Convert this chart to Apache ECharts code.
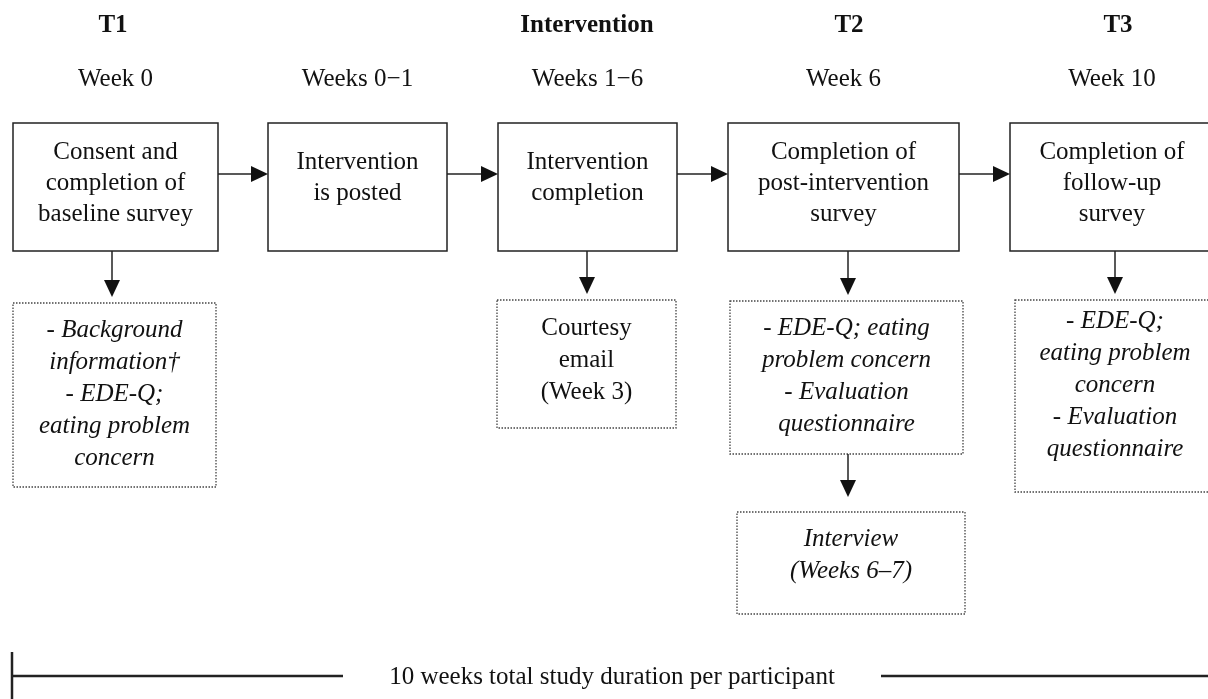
<!DOCTYPE html>
<html>
<head>
<meta charset="utf-8">
<style>
  html, body { margin: 0; padding: 0; background: #fff; }
  #chart { width: 1208px; height: 699px; }
</style>
<script src="https://cdn.jsdelivr.net/npm/echarts@6/dist/echarts.min.js"></script>
</head>
<body>
<div id="chart"></div>
<script>
// ---- content ----
const phases = ['T1', '', 'Intervention', 'T2', 'T3'];
const timepoints = ['Week 0', 'Weeks 0\u22121', 'Weeks 1\u22126', 'Week 6', 'Week 10'];
const steps = [
  'Consent and\ncompletion of\nbaseline survey',
  'Intervention\nis posted',
  'Intervention\ncompletion',
  'Completion of\npost-intervention\nsurvey',
  'Completion of\nfollow-up\nsurvey'
];
const measures = [
  '- Background\ninformation\u2020\n- EDE-Q;\neating problem\nconcern',
  'Courtesy\nemail\n(Week 3)',
  '- EDE-Q; eating\nproblem concern\n- Evaluation\nquestionnaire',
  'Interview\n(Weeks 6\u20137)',
  '- EDE-Q;\neating problem\nconcern\n- Evaluation\nquestionnaire'
];
const measureItalic = [true, false, true, true, true];
const durationLabel = '10 weeks total study duration per participant';

// ---- layout, in axis units (1 unit = 1px of the 1208x699 page) ----
const stepLeft = [13, 268, 498, 728, 1010];
const stepRight = [218, 447, 677, 959, 1214];
const stepTop = 123;
const stepBottom = 251;
const stepTextY = [183, 178, 178, 183, 183];
const phaseX = [113, 357, 587, 849, 1118];
const phaseY = 26;
const weekY = 79;

const measureLeft = [13, 497, 730, 737, 1015];
const measureRight = [216, 676, 963, 965, 1215];
const measureTop = [303, 300, 301, 512, 300];
const measureBottom = [487, 428, 454, 614, 492];
const measureTextY = [394, 360, 376, 555, 385];

const arrowY = 174;
const downX = [112, 587, 848, 1115];
const timelineY = 676;

const FONT = '"Liberation Serif", "Times New Roman", serif';
const INK = '#111';

// boxes: [left, top, right, bottom, textY]
const stepData = steps.map((s, i) => [stepLeft[i], stepTop, stepRight[i], stepBottom, stepTextY[i]]);
const measureData = measures.map((s, i) => [measureLeft[i], measureTop[i], measureRight[i], measureBottom[i], measureTextY[i]]);

// arrows: [x1, y1, x2, y2]
const arrowData = [];
for (let i = 0; i < 4; i++) arrowData.push([stepRight[i], arrowY, stepLeft[i + 1], arrowY]);
downX.forEach((x, i) => {
  const target = [0, 1, 2, 4][i];
  arrowData.push([x, stepBottom, x, measureTop[target] - 6]);
});
arrowData.push([downX[2], measureBottom[2], downX[2], measureTop[3] - 15]);

// header texts: [x, y]
const headerData = [];
phases.forEach((p, i) => headerData.push([phaseX[i], phaseY]));
timepoints.forEach((t, i) => headerData.push([(stepLeft[i] + stepRight[i]) / 2, weekY]));
const headerText = phases.concat(timepoints);

const renderBox = (labels, dashed, italicFlags) => (params, api) => {
  const p0 = api.coord([api.value(0), api.value(1)]);
  const p1 = api.coord([api.value(2), api.value(3)]);
  const cx = (p0[0] + p1[0]) / 2;
  const ty = api.coord([0, api.value(4)])[1];
  const italic = italicFlags ? italicFlags[params.dataIndex] : false;
  return {
    type: 'group',
    children: [
      {
        type: 'rect',
        shape: { x: p0[0], y: p0[1], width: p1[0] - p0[0], height: p1[1] - p0[1] },
        style: dashed
          ? { fill: null, stroke: '#444', lineWidth: 1.3, lineDash: [1.5, 1.5] }
          : { fill: null, stroke: '#222', lineWidth: 1.5 }
      },
      {
        type: 'text',
        style: {
          text: labels[params.dataIndex],
          x: cx,
          y: ty,
          align: 'center',
          verticalAlign: 'middle',
          fontFamily: FONT,
          fontSize: 25,
          fontStyle: italic ? 'italic' : 'normal',
          lineHeight: dashed ? 32 : 31,
          fill: INK
        }
      }
    ]
  };
};

const renderArrow = (params, api) => {
  const a = api.coord([api.value(0), api.value(1)]);
  const b = api.coord([api.value(2), api.value(3)]);
  const dx = b[0] - a[0];
  const dy = b[1] - a[1];
  const len = Math.sqrt(dx * dx + dy * dy);
  const ux = dx / len;
  const uy = dy / len;
  const head = 17;
  const half = 8;
  const bx = b[0] - ux * head;
  const by = b[1] - uy * head;
  return {
    type: 'group',
    children: [
      {
        type: 'line',
        shape: { x1: a[0], y1: a[1], x2: bx, y2: by },
        style: { stroke: '#222', lineWidth: 1.5 }
      },
      {
        type: 'polygon',
        shape: { points: [[b[0], b[1]], [bx - uy * half, by + ux * half], [bx + uy * half, by - ux * half]] },
        style: { fill: '#111' }
      }
    ]
  };
};

const renderHeader = (params, api) => {
  const p = api.coord([api.value(0), api.value(1)]);
  const bold = params.dataIndex < phases.length;
  return {
    type: 'text',
    style: {
      text: headerText[params.dataIndex],
      x: p[0],
      y: p[1],
      align: 'center',
      verticalAlign: 'middle',
      fontFamily: FONT,
      fontSize: 25,
      fontWeight: bold ? 'bold' : 'normal',
      fill: INK
    }
  };
};

// timeline segments: [x1, y1, x2, y2]
const timelineData = [
  [12, 652, 12, 705],
  [12, timelineY, 343, timelineY],
  [881, timelineY, 1212, timelineY]
];

const renderTimeline = (params, api) => {
  const a = api.coord([api.value(0), api.value(1)]);
  const b = api.coord([api.value(2), api.value(3)]);
  return {
    type: 'line',
    shape: { x1: a[0], y1: a[1], x2: b[0], y2: b[1] },
    style: { stroke: '#222', lineWidth: 2.5 }
  };
};

const renderDurationLabel = (params, api) => {
  const p = api.coord([api.value(0), api.value(1)]);
  return {
    type: 'text',
    style: {
      text: durationLabel,
      x: p[0],
      y: p[1],
      align: 'center',
      verticalAlign: 'middle',
      fontFamily: FONT,
      fontSize: 25,
      fill: INK
    }
  };
};

const chart = echarts.init(document.getElementById('chart'));
chart.setOption({
  animation: false,
  backgroundColor: '#fff',
  grid: { left: 0, right: 0, top: 0, bottom: 0 },
  xAxis: { type: 'value', min: 0, max: 1208, show: false },
  yAxis: { type: 'value', min: 0, max: 699, inverse: true, show: false },
  series: [
    { type: 'custom', name: 'steps', clip: false, data: stepData, renderItem: renderBox(steps, false, null) },
    { type: 'custom', name: 'measures', clip: false, data: measureData, renderItem: renderBox(measures, true, measureItalic) },
    { type: 'custom', name: 'arrows', clip: false, data: arrowData, renderItem: renderArrow },
    { type: 'custom', name: 'headers', clip: false, data: headerData, renderItem: renderHeader },
    { type: 'custom', name: 'timeline', clip: false, data: timelineData, renderItem: renderTimeline },
    { type: 'custom', name: 'duration', clip: false, data: [[612, timelineY + 1]], renderItem: renderDurationLabel }
  ]
});
</script>
</body>
</html>
